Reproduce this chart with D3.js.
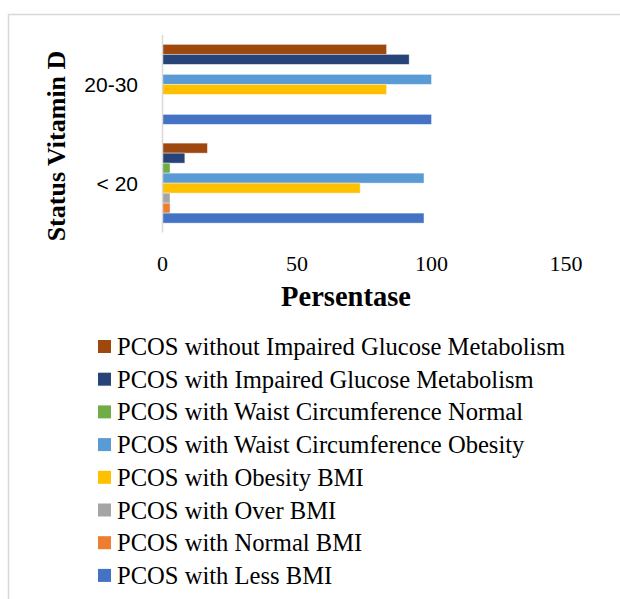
<!DOCTYPE html>
<html lang="en">

<head>
    <meta charset="UTF-8">
    <title>Status Vitamin D</title>
    <script src="https://d3js.org/d3.v7.min.js"></script>
    <style>
        body { margin: 0; background: #fff; }
        svg { display: block; }
    </style>
</head>

<body>

    <div id="chart-container"></div>

    <script>
        const width = 620;
        const height = 599;

        // categories from top to bottom
        const categories = ["20-30", "< 20"];

        // series in drawing order inside a group (top to bottom) = legend order
        const seriesNames = [
            "PCOS without Impaired Glucose Metabolism",
            "PCOS with Impaired Glucose Metabolism",
            "PCOS with Waist Circumference Normal",
            "PCOS with Waist Circumference Obesity",
            "PCOS with Obesity BMI",
            "PCOS with Over BMI",
            "PCOS with Normal BMI",
            "PCOS with Less BMI"
        ];
        const seriesColors = ["#9E480E", "#264478", "#70AD47", "#5B9BD5", "#FFC000", "#A5A5A5", "#ED7D31", "#4472C4"];

        // values: [20-30, < 20]
        const withoutImpaired = [83.3, 16.7];
        const withImpaired = [91.7, 8.3];
        const waistNormal = [0, 2.8];
        const waistObesity = [100, 97.2];
        const obesityBMI = [83.3, 73.5];
        const overBMI = [0, 2.8];
        const normalBMI = [0, 2.8];
        const lessBMI = [100, 97.2];

        const seriesValues = [withoutImpaired, withImpaired, waistNormal, waistObesity, obesityBMI, overBMI, normalBMI, lessBMI];

        const xTicks = [0, 50, 100, 150];

        const svg = d3.select("#chart-container")
            .append("svg")
            .attr("width", width)
            .attr("height", height);

        // chart frame (runs off the right and bottom edges)
        svg.append("rect")
            .attr("x", 8.5)
            .attr("y", 14.5)
            .attr("width", 700)
            .attr("height", 700)
            .attr("fill", "none")
            .attr("stroke", "#d9d9d9")
            .attr("stroke-width", 1.5);

        const plot = { left: 162.5, right: 566, top: 35, bottom: 232.5 };

        const x = d3.scaleLinear()
            .domain([0, 150])
            .range([plot.left, plot.right]);

        const y = d3.scaleBand()
            .domain(categories)
            .range([plot.top, plot.bottom])
            .paddingInner(0.19)
            .paddingOuter(0.095);

        const yInner = d3.scaleBand()
            .domain(seriesNames)
            .range([0, y.bandwidth()]);

        // bars
        const groups = svg.selectAll(".cat-group")
            .data(categories)
            .enter()
            .append("g")
            .attr("class", "cat-group")
            .attr("transform", d => `translate(0, ${y(d)})`);

        groups.selectAll("rect")
            .data((c, ci) => seriesNames.map((s, si) => ({ series: s, value: seriesValues[si][ci], color: seriesColors[si] })))
            .enter()
            .append("rect")
            .attr("x", x(0))
            .attr("y", d => yInner(d.series))
            .attr("width", d => x(d.value) - x(0))
            .attr("height", yInner.bandwidth())
            .attr("fill", d => d.color)
            .attr("stroke", "#fff")
            .attr("stroke-opacity", d => d.value > 0 ? 0.5 : 0)
            .attr("stroke-width", 0.8);

        // vertical axis line
        svg.append("line")
            .attr("x1", x(0))
            .attr("x2", x(0))
            .attr("y1", plot.top)
            .attr("y2", plot.bottom)
            .attr("stroke", "#d9d9d9")
            .attr("stroke-width", 1.5);

        // category labels
        svg.selectAll(".cat-label")
            .data(categories)
            .enter()
            .append("text")
            .attr("class", "cat-label")
            .attr("x", 138)
            .attr("y", d => y(d) + y.bandwidth() / 2 + 8)
            .attr("text-anchor", "end")
            .style("font-family", "'Liberation Sans', Arial, sans-serif")
            .style("font-size", "21px")
            .style("fill", "#000")
            .text(d => d);

        // x tick labels
        svg.selectAll(".x-tick")
            .data(xTicks)
            .enter()
            .append("text")
            .attr("class", "x-tick")
            .attr("x", d => x(d))
            .attr("y", 271)
            .attr("text-anchor", "middle")
            .style("font-family", "'Liberation Serif', 'Times New Roman', serif")
            .style("font-size", "22px")
            .style("fill", "#000")
            .text(d => d);

        // axis titles
        svg.append("text")
            .attr("x", 346)
            .attr("y", 306)
            .attr("text-anchor", "middle")
            .style("font-family", "'Liberation Serif', 'Times New Roman', serif")
            .style("font-size", "28.5px")
            .style("font-weight", "bold")
            .text("Persentase");

        svg.append("text")
            .attr("transform", "translate(65, 146) rotate(-90)")
            .attr("text-anchor", "middle")
            .style("font-family", "'Liberation Serif', 'Times New Roman', serif")
            .style("font-size", "26px")
            .style("font-weight", "bold")
            .text("Status Vitamin D");

        // legend
        const legend = svg.append("g")
            .attr("class", "legend")
            .attr("transform", "translate(98, 355)");

        legend.selectAll("rect")
            .data(seriesNames)
            .enter()
            .append("rect")
            .attr("x", 0)
            .attr("y", (d, i) => i * 32.7 - 15)
            .attr("width", 13)
            .attr("height", 13)
            .attr("fill", (d, i) => seriesColors[i]);

        legend.selectAll("text")
            .data(seriesNames)
            .enter()
            .append("text")
            .attr("x", 19)
            .attr("y", (d, i) => i * 32.7)
            .style("font-family", "'Liberation Serif', 'Times New Roman', serif")
            .style("font-size", "24.6px")
            .style("fill", "#000")
            .text(d => d);
    </script>
</body>

</html>
